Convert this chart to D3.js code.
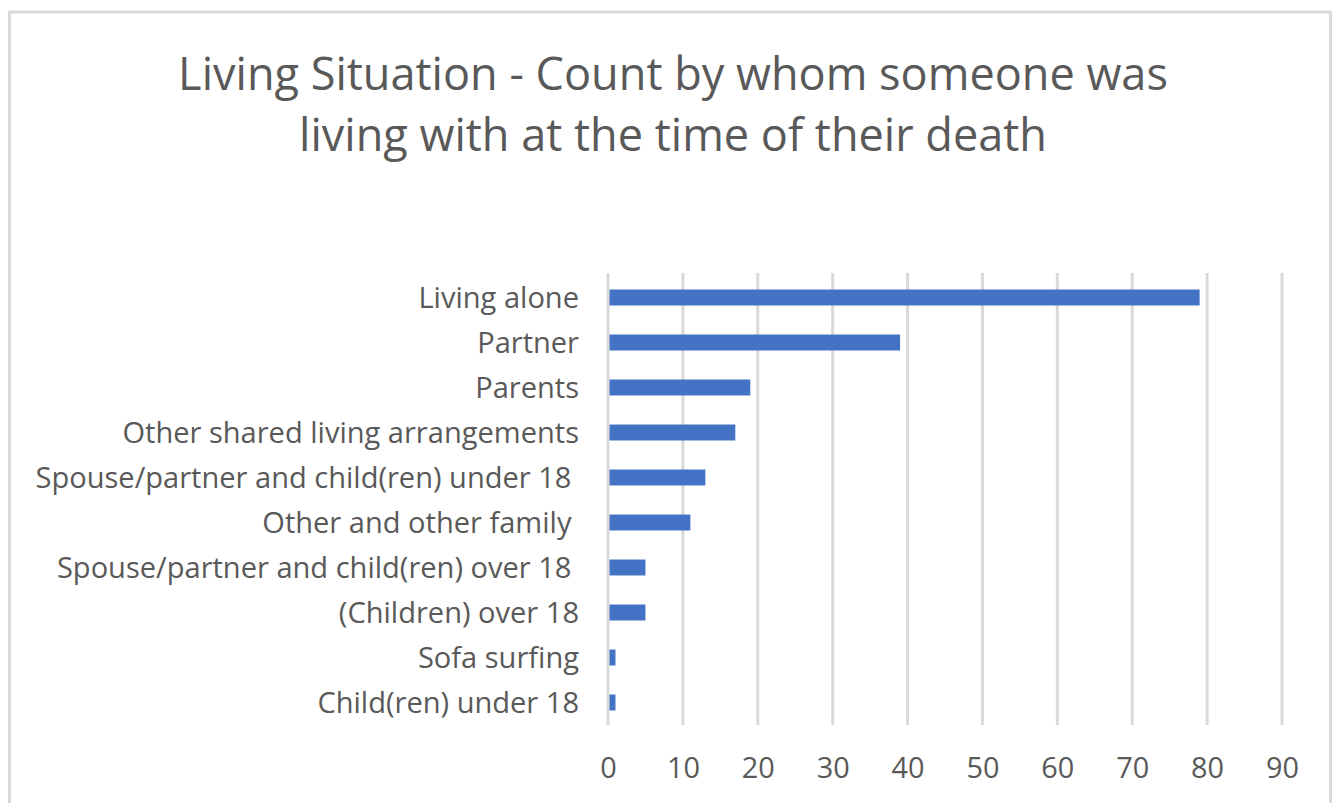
<!DOCTYPE html>
<html><head><meta charset="utf-8">
<script src="https://cdn.jsdelivr.net/npm/d3@7"></script>
<style>html,body{margin:0;padding:0;background:#fff;overflow:hidden}</style>
</head><body>
<script>
const titleLines = ["Living Situation - Count by whom someone was", "living with at the time of their death"];
const categories = ["Living alone", "Partner", "Parents", "Other shared living arrangements",
  "Spouse/partner and child(ren) under 18 ", "Other and other family ",
  "Spouse/partner and child(ren) over 18 ", "(Children) over 18", "Sofa surfing", "Child(ren) under 18"];
const values = [79, 39, 19, 17, 13, 11, 5, 5, 1, 1];
const tickValues = [0, 10, 20, 30, 40, 50, 60, 70, 80, 90];

const W = 1339, H = 803;
const FONT = "'Open Sans', 'Noto Sans', sans-serif";
const TEXT = "#595959";
const svg = d3.select("body").append("svg").attr("width", W).attr("height", H);

// chart border
svg.append("rect").attr("x", 9.5).attr("y", 12).attr("width", 1321).attr("height", 820)
  .attr("fill", "#fff").attr("stroke", "#d9d9d9").attr("stroke-width", 3);

function fit(sel, target) {
  const w = sel.node().getComputedTextLength();
  const fs = parseFloat(sel.attr("font-size"));
  sel.attr("font-size", fs * target / w);
}

// title
const t1 = svg.append("text").attr("x", 673).attr("y", 90).attr("text-anchor", "middle")
  .attr("font-family", FONT).attr("font-size", 40).attr("fill", TEXT).text(titleLines[0]);
fit(t1, 990);
const tfs = t1.attr("font-size");
svg.append("text").attr("x", 673).attr("y", 151).attr("text-anchor", "middle")
  .attr("font-family", FONT).attr("font-size", tfs).attr("fill", TEXT).text(titleLines[1]);

const x = d3.scaleLinear().domain([0, 90]).range([608, 1282]);
const y = d3.scaleBand().domain(categories).range([275, 725]).paddingInner(0.645).paddingOuter(0.3225);

// gridlines
svg.append("g").selectAll("line").data(tickValues).join("line")
  .attr("x1", d => x(d)).attr("x2", d => x(d)).attr("y1", 273).attr("y2", 725)
  .attr("stroke", "#d9d9d9").attr("stroke-width", 3);

// bars
svg.append("g").selectAll("rect").data(values).join("rect")
  .attr("x", x(0) + 1.5).attr("y", (d, i) => y(categories[i]))
  .attr("width", d => Math.max(0, x(d) - x(0) - 1.5)).attr("height", y.bandwidth())
  .attr("fill", "#4472c4");

// category labels
const measure = svg.append("text").attr("font-family", FONT).attr("font-size", 26)
  .text("Spouse/partner and child(ren) under 18");
fit(measure, 536);
const lfs = measure.attr("font-size");
measure.remove();
svg.append("g").selectAll("text").data(categories).join("text")
  .attr("x", 579).attr("y", d => y(d) + y.bandwidth() / 2).attr("dy", "0.35em")
  .attr("text-anchor", "end").attr("font-family", FONT).attr("font-size", lfs)
  .attr("fill", TEXT).style("white-space", "pre").text(d => d);

// x-axis tick labels
const m2 = svg.append("text").attr("font-family", FONT).attr("font-size", 26).text("10");
fit(m2, 33);
const xfs = m2.attr("font-size");
m2.remove();
const xAxis = d3.axisBottom(x).tickValues(tickValues).tickSize(0).tickPadding(0);
const ax = svg.append("g").attr("transform", "translate(0,778)").call(xAxis);
ax.select(".domain").remove();
ax.selectAll("text").attr("font-family", FONT).attr("font-size", xfs).attr("fill", TEXT)
  .attr("dy", 0).attr("y", 0);
</script>
</body></html>
